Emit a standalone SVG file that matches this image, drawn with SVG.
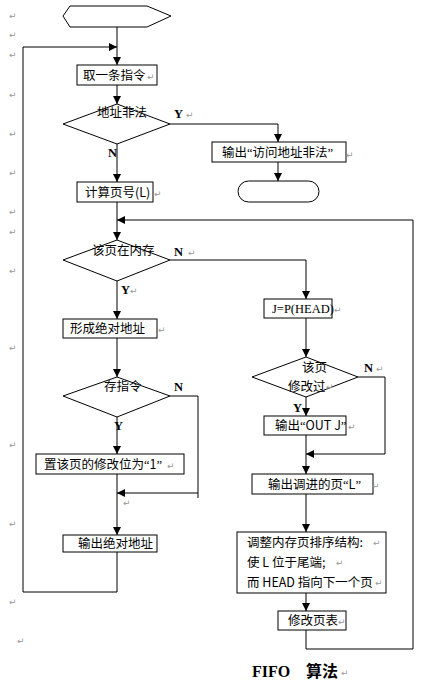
<svg xmlns="http://www.w3.org/2000/svg" width="440" height="687" viewBox="0 0 440 687">
<defs>
<marker id="ah" markerUnits="userSpaceOnUse" markerWidth="8" markerHeight="8" refX="8" refY="4" orient="auto">
<path d="M0,0 L8,4 L0,8 z" fill="#000"/>
</marker>
<style>
.sh{fill:#fff;stroke:#000;stroke-width:1}
.t{font-family:"Noto Sans CJK SC","Noto Sans",sans-serif;font-size:12.5px;fill:#000}
.q{font-family:"Liberation Serif",serif}
.l{font-family:"Liberation Serif",serif;font-size:12.5px;font-weight:bold;fill:#000}
.pm{font-family:"DejaVu Sans",sans-serif;font-size:9px;fill:#999}
.c{fill:none;stroke:#000;stroke-width:1}
.ca{fill:none;stroke:#000;stroke-width:1;marker-end:url(#ah)}
</style>
</defs>
<rect width="440" height="687" fill="#fff"/>

<g id="margin-marks">
<text class="pm" x="9" y="19">↵</text>
<text class="pm" x="9" y="38">↵</text>
<text class="pm" x="9" y="58">↵</text>
<text class="pm" x="9" y="98">↵</text>
<text class="pm" x="9" y="137">↵</text>
<text class="pm" x="9" y="176">↵</text>
<text class="pm" x="9" y="215">↵</text>
<text class="pm" x="9" y="235">↵</text>
<text class="pm" x="9" y="274">↵</text>
<text class="pm" x="9" y="351">↵</text>
<text class="pm" x="9" y="448">↵</text>
<text class="pm" x="9" y="527">↵</text>
<text class="pm" x="9" y="605">↵</text>
<text class="pm" x="17" y="644">↵</text>
</g>

<g id="connectors">
<path class="ca" d="M117,26 V65"/>
<path class="ca" d="M117,85 V104"/>
<path class="ca" d="M170,124 H278 V142"/>
<path class="ca" d="M278,162 V181"/>
<path class="ca" d="M117,144 V182"/>
<path class="ca" d="M117,202 V240"/>
<path class="ca" d="M306,630 V649 H413 V220 H117"/>
<path class="ca" d="M170,260 H306 V299"/>
<path class="ca" d="M117,281 V319"/>
<path class="ca" d="M117,338 V377"/>
<path class="c" d="M170,396 H198 V498"/>
<path class="ca" d="M198,493 H117"/>
<path class="ca" d="M117,417 V454"/>
<path class="ca" d="M117,474 V535"/>
<path class="ca" d="M117,552 V592 H23 V47 H117"/>
<path class="ca" d="M306,318 V357"/>
<path class="ca" d="M358,377 H385 V454 H306"/>
<path class="ca" d="M306,397 V416"/>
<path class="ca" d="M306,435 V474"/>
<path class="ca" d="M306,494 V532"/>
<path class="ca" d="M306,593 V611"/>
</g>

<g id="start">
<polygon class="sh" points="70,6 147,6 171,16 147,27 70,27 63,16"/>
</g>

<g id="fetch">
<rect class="sh" x="77" y="65" width="80" height="20"/>
<text class="t" x="83" y="80">取一条指令</text>
<text class="pm" x="147" y="80">↵</text>
</g>

<g id="illegal">
<polygon class="sh" points="117,104 170,124 117,144 63,124"/>
<text class="t" x="97" y="117">地址非法</text>
<text class="l" x="174" y="118">Y</text>
<text class="pm" x="186" y="118">↵</text>
<text class="l" x="108" y="157">N</text>
</g>

<g id="out-illegal">
<rect class="sh" x="212" y="142" width="134" height="20"/>
<text class="t" x="222" y="157">输出<tspan class="q">“</tspan>访问地址非法<tspan class="q">”</tspan></text>
<text class="pm" x="346" y="158">↵</text>
</g>

<g id="end">
<rect class="sh" x="238" y="181" width="81" height="21" rx="10.5" ry="10.5"/>
</g>

<g id="pageno">
<rect class="sh" x="77" y="182" width="76" height="20"/>
<text class="t" x="85" y="197">计算页号(L)</text>
<text class="pm" x="154" y="197">↵</text>
</g>

<g id="inmem">
<polygon class="sh" points="117,240 170,260 117,281 63,260"/>
<text class="t" x="92" y="255">该页在内存</text>
<text class="l" x="174" y="256">N</text>
<text class="pm" x="188" y="256">↵</text>
<text class="l" x="121" y="294">Y</text>
<text class="pm" x="130" y="294">↵</text>
</g>

<g id="absaddr">
<rect class="sh" x="63" y="319" width="94" height="19"/>
<text class="t" x="70" y="333">形成绝对地址</text>
<text class="pm" x="158" y="333">↵</text>
</g>

<g id="store">
<polygon class="sh" points="117,377 170,396 117,417 63,396"/>
<text class="t" x="104" y="391">存指令</text>
<text class="l" x="174" y="391">N</text>
<text class="l" x="114" y="430">Y</text>
</g>

<g id="setbit">
<rect class="sh" x="36" y="454" width="148" height="20"/>
<text class="t" x="44" y="469">置该页的修改位为<tspan class="q">“</tspan>1<tspan class="q">”</tspan></text>
<text class="pm" x="167" y="469">↵</text>
<text class="pm" x="123" y="506">↵</text>
</g>

<g id="outabs">
<rect class="sh" x="63" y="535" width="94" height="17"/>
<text class="t" x="78" y="548">输出绝对地址</text>
</g>

<g id="jhead">
<rect class="sh" x="264" y="299" width="68" height="19"/>
<text x="272" y="313" style="font-family:'Liberation Serif',serif;font-size:12.5px">J=P(HEAD)</text>
<text class="pm" x="334" y="313">↵</text>
</g>

<g id="modified">
<polygon class="sh" points="306,357 358,377 306,397 252,377"/>
<text class="t" x="302" y="372">该页</text>
<text class="t" x="288" y="391">修改过</text>
<text class="pm" x="326" y="390">↵</text>
<text class="l" x="364" y="372">N</text>
<text class="pm" x="376" y="372">↵</text>
<text class="l" x="293" y="412">Y</text>
</g>

<g id="outj">
<rect class="sh" x="264" y="416" width="82" height="19"/>
<text class="t" x="275" y="430">输出<tspan class="q">“</tspan>OUT J<tspan class="q">”</tspan></text>
<text class="pm" x="348" y="430">↵</text>
</g>

<g id="outl">
<rect class="sh" x="252" y="474" width="121" height="20"/>
<text class="t" x="268" y="489">输出调进的页<tspan class="q">“</tspan>L<tspan class="q">”</tspan></text>
<text class="pm" x="372" y="489">↵</text>
</g>

<g id="adjust">
<rect class="sh" x="237" y="532" width="149" height="61"/>
<text class="t" x="247" y="547">调整内存页排序结构:</text>
<text class="pm" x="373" y="546">↵</text>
<text class="t" x="247" y="567">使 L 位于尾端;</text>
<text class="pm" x="336" y="566">↵</text>
<text class="t" x="247" y="587">而 HEAD 指向下一个页</text>
<text class="pm" x="375" y="586">↵</text>
</g>

<g id="pagetable">
<rect class="sh" x="278" y="611" width="68" height="19"/>
<text class="t" x="288" y="625">修改页表</text>
<text class="pm" x="338" y="625">↵</text>
</g>

<g id="title">
<text x="252" y="677" style="font-family:'Liberation Serif',serif;font-size:16px;font-weight:bold">FIFO</text>
<text x="306" y="677" style="font-family:'Noto Sans CJK SC',sans-serif;font-size:16px;font-weight:bold">算法</text>
<text class="pm" x="341" y="676">↵</text>
</g>
</svg>
